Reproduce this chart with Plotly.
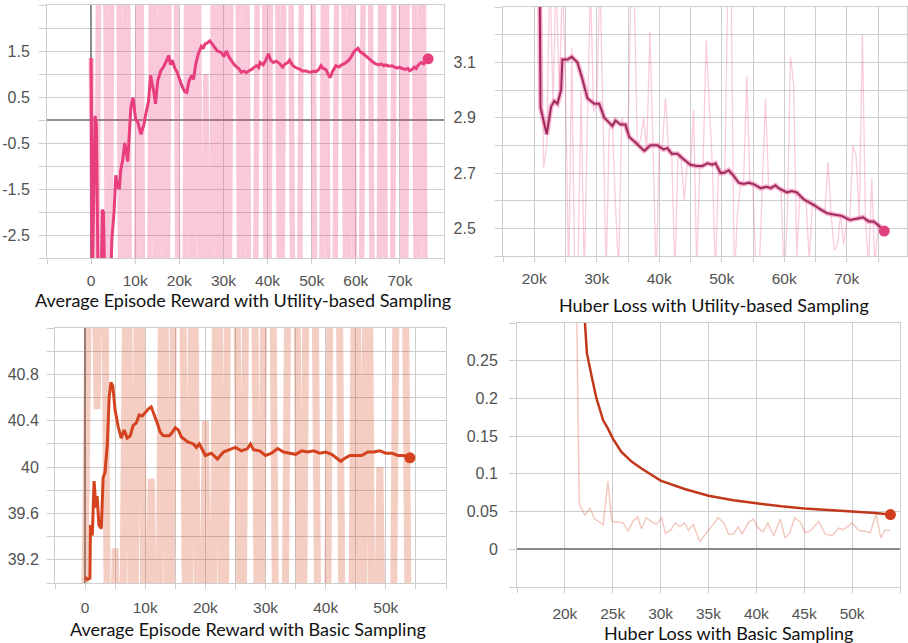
import plotly.graph_objects as go

# ---------------- Panel 1: Average Episode Reward, Utility-based Sampling
p1_raw_steps = list(range(0, 77000, 1000))
p1_raw_values = [1.35, -9.4, 8.6, 9.1, -8.8, 8.2, 9.4, -9.6, 7.9, -9.2,
                 -8.9, 8.8, -9.5, -9.0, 9.2, -9.6, 8.4, -8.7, 9.0, 8.1,
                 -9.3, -8.7, 8.7, -9.1, 9.3, -8.9, 1.0, -9.3, 8.5, -8.9,
                 9.1, -9.3, 8.0, 8.9, -9.7, 8.6, -8.6, -9.2, 9.4, 8.3,
                 -9.0, 8.8, 7.7, -8.8, 9.0, 8.4, -9.5, -8.6, 8.9, 7.6,
                 8.2, -9.4, -9.0, 8.7, -8.8, -9.1, 9.2, 8.1, -9.2, 8.6,
                 -8.5, -9.4, 9.0, 8.3, -8.9, -9.4, 8.8, -9.0, -9.6, 8.5,
                 9.3, -8.7, 8.9, 7.9, -9.1, 8.4, -8.5]
p1_smooth_steps = [0, 250, 900, 1200, 1600, 2300, 2500, 2800, 3100, 4400,
                   4700, 5200, 5600, 6000, 6400, 6700, 7200, 7600, 7900, 8300,
                   9000, 9500, 10100, 10600, 11300, 12000, 12400, 13000, 13500, 14300,
                   14600, 15100, 15800, 16400, 16900, 17600, 18000, 18400, 19000, 19500,
                   20000, 20600, 21200, 21700, 22200, 22800, 23200, 23700, 24300, 25000,
                   25400, 25800, 26400, 26900, 27400, 28000, 28600, 29500, 30100, 30700,
                   31200, 31800, 32500, 33000, 33500, 34000, 34600, 35200, 35800, 36400,
                   37000, 37500, 38000, 38300, 39000, 39600, 40200, 40700, 41300, 42000,
                   42800, 43400, 44000, 44600, 45000, 45600, 46200, 46800, 47400, 48000,
                   48600, 49200, 49800, 50400, 51000, 51600, 52100, 52600, 53200, 53700,
                   54200, 54700, 55500, 56200, 56800, 57300, 57800, 58400, 59000, 59700,
                   60500, 61000, 61600, 62200, 62800, 63400, 64000, 64500, 65200, 65800,
                   66300, 66800, 67500, 68200, 68800, 69400, 69900, 70500, 71200, 71800,
                   72200, 72800, 73300, 73700, 74200, 74900, 75400, 75900, 76400]
p1_smooth_values = [1.35, -3.6, 0.09, -0.1, -3.6, -3.6, -1.95, -2.0, -3.6, -3.6,
                    -2.6, -2.0, -1.2, -1.45, -1.5, -1.1, -0.85, -0.5, -0.65, -0.9,
                    0.27, 0.49, 0.01, -0.05, -0.31, -0.09, 0.13, 0.4, 0.97, 0.56,
                    0.35, 0.85, 1.07, 1.15, 1.25, 1.4, 1.2, 1.3, 1.12, 1.04,
                    0.9, 0.74, 0.62, 0.6, 0.85, 0.97, 0.88, 1.2, 1.44, 1.6,
                    1.55, 1.65, 1.68, 1.72, 1.66, 1.58, 1.5, 1.47, 1.38, 1.5,
                    1.38, 1.29, 1.2, 1.15, 1.12, 1.04, 1.06, 1.03, 1.07, 1.1,
                    1.15, 1.18, 1.14, 1.25, 1.2, 1.3, 1.44, 1.3, 1.25, 1.28,
                    1.22, 1.15, 1.22, 1.25, 1.3, 1.2, 1.15, 1.12, 1.1, 1.06,
                    1.07, 1.05, 1.04, 1.06, 1.05, 1.1, 1.18, 1.12, 1.1, 1.0,
                    0.92, 1.05, 1.18, 1.15, 1.2, 1.22, 1.25, 1.3, 1.38, 1.5,
                    1.56, 1.48, 1.45, 1.4, 1.35, 1.3, 1.25, 1.22, 1.2, 1.22,
                    1.18, 1.2, 1.17, 1.18, 1.15, 1.13, 1.15, 1.12, 1.1, 1.12,
                    1.07, 1.1, 1.15, 1.12, 1.2, 1.25, 1.22, 1.3, 1.33]
p1_x_ticks = [-10000, 0, 10000, 20000, 30000, 40000, 50000, 60000, 70000, 80000]
p1_x_labels = ["", "0", "10k", "20k", "30k", "40k", "50k", "60k", "70k", ""]
p1_y_ticks = [-3, -2.5, -2, -1.5, -1, -0.5, 0, 0.5, 1, 1.5, 2, 2.5]
p1_y_labels = ["", "-2.5", "", "-1.5", "", "-0.5", "", "0.5", "", "1.5", "", ""]

# ---------------- Panel 2: Huber Loss, Utility-based Sampling
p2_raw_steps = list(range(21000, 76500, 500))
p2_raw_values = [3.50, 2.72, 2.80, 3.45, 2.95, 3.42, 2.98, 3.40, 3.05, 2.30,
                 3.15, 2.28, 2.35, 3.00, 2.32, 2.88, 3.38, 2.92, 2.95, 3.42,
                 2.90, 2.33, 2.86, 2.88, 2.58, 2.35, 2.90, 2.86, 2.84, 3.40,
                 3.35, 2.80, 2.82, 2.90, 2.78, 3.21, 2.80, 2.32, 2.79, 2.80,
                 2.97, 2.78, 2.77, 2.33, 2.76, 2.75, 2.60, 2.74, 2.72, 2.93,
                 2.35, 2.73, 2.72, 3.18, 2.95, 2.73, 2.33, 2.72, 2.70, 2.71,
                 3.42, 3.38, 2.30, 2.55, 2.66, 2.67, 3.05, 2.66, 2.65, 2.32,
                 2.35, 2.65, 2.97, 2.65, 2.64, 2.66, 2.65, 2.63, 2.30, 2.55,
                 3.12, 3.02, 2.40, 2.62, 2.61, 2.60, 2.38, 2.59, 2.58, 2.57,
                 2.56, 2.56, 2.74, 2.55, 2.42, 2.44, 2.55, 2.44, 2.53, 2.54,
                 2.80, 2.76, 2.53, 3.20, 2.53, 2.36, 2.68, 2.36, 2.52, 2.50,
                 2.47]
p2_smooth_steps = [20800, 21000, 22000, 22700, 23200, 23700, 24300, 24500, 25300, 26000,
                   26900, 27700, 28500, 29600, 30400, 31200, 32500, 33000, 33800, 34600,
                   35200, 36200, 37600, 38600, 39700, 40700, 41300, 42000, 42900, 43900,
                   45000, 46000, 46900, 47700, 48500, 49000, 49800, 50300, 51100, 51900,
                   52700, 53500, 54300, 55100, 56200, 57200, 57800, 58600, 59100, 60400,
                   61200, 62000, 63100, 64700, 65700, 66800, 67900, 69200, 70500, 71600,
                   72600, 73500, 74300, 75100, 76000]
p2_smooth_values = [3.6, 2.936, 2.84, 2.94, 2.96, 2.95, 3.0, 3.11, 3.11, 3.12,
                    3.10, 3.04, 2.97, 2.95, 2.95, 2.90, 2.87, 2.89, 2.875, 2.875,
                    2.83, 2.81, 2.78, 2.80, 2.80, 2.785, 2.79, 2.77, 2.77, 2.75,
                    2.73, 2.725, 2.725, 2.735, 2.73, 2.735, 2.70, 2.70, 2.71, 2.69,
                    2.665, 2.66, 2.665, 2.66, 2.645, 2.65, 2.645, 2.655, 2.645, 2.63,
                    2.635, 2.63, 2.605, 2.585, 2.57, 2.555, 2.55, 2.545, 2.53, 2.535,
                    2.54, 2.525, 2.525, 2.51, 2.49]
p2_x_ticks = [15000, 20000, 25000, 30000, 35000, 40000, 45000, 50000, 55000, 60000, 65000, 70000, 75000]
p2_x_labels = ["", "20k", "", "30k", "", "40k", "", "50k", "", "60k", "", "70k", ""]
p2_y_ticks = [2.4, 2.5, 2.6, 2.7, 2.8, 2.9, 3.0, 3.1, 3.2, 3.3]
p2_y_labels = ["", "2.5", "", "2.7", "", "2.9", "", "3.1", "", ""]

# ---------------- Panel 3: Average Episode Reward, Basic Sampling
p3_raw_steps = list(range(0, 55000, 1000))
p3_raw_values = [39.0, 43.8, 40.5, 44.1, 36.2, 39.3, 36.8, 43.2, 36.4, 44.0,
                 36.9, 39.9, 36.5, 43.6, 36.1, 43.9, 43.1, 36.7, 43.4, 36.3,
                 40.4, 36.6, 43.7, 36.0, 44.2, 43.0, 36.8, 43.5, 42.9, 36.2,
                 43.8, 43.1, 36.4, 36.9, 43.6, 43.0, 36.3, 43.7, 43.2, 36.5,
                 36.1, 43.9, 43.3, 36.7, 36.2, 43.4, 36.6, 43.8, 36.0, 40.0,
                 36.4, 36.9, 43.5, 43.1, 36.8]
p3_smooth_steps = [0, 400, 800, 900, 1200, 1500, 1800, 2000, 2300, 2700,
                   3000, 3300, 3700, 4000, 4300, 4600, 5000, 5500, 6000, 6500,
                   7000, 7500, 8000, 8500, 9000, 9500, 10000, 10500, 11000, 11500,
                   12000, 12500, 13000, 14000, 14500, 15000, 15500, 16000, 16500, 17000,
                   18000, 18500, 19000, 19500, 20000, 21000, 22000, 23000, 24000, 25000,
                   26000, 27000, 27500, 28000, 29000, 30000, 31000, 32000, 33000, 34000,
                   35000, 36000, 37000, 38000, 39000, 40000, 41000, 42000, 42500, 43000,
                   44000, 45000, 46000, 47000, 48000, 49000, 50000, 51000, 52000, 53000,
                   54000]
p3_smooth_values = [39.05, 39.03, 39.04, 39.5, 39.41, 39.88, 39.65, 39.75, 39.5, 39.47,
                    39.91, 39.95, 40.19, 40.6, 40.73, 40.7, 40.49, 40.35, 40.25, 40.32,
                    40.25, 40.27, 40.36, 40.38, 40.45, 40.44, 40.47, 40.5, 40.52, 40.45,
                    40.38, 40.3, 40.27, 40.27, 40.3, 40.34, 40.32, 40.26, 40.24, 40.22,
                    40.2, 40.17, 40.2, 40.15, 40.1, 40.12, 40.07, 40.13, 40.15, 40.17,
                    40.14, 40.16, 40.2, 40.15, 40.14, 40.1, 40.12, 40.16, 40.13, 40.12,
                    40.11, 40.14, 40.13, 40.14, 40.12, 40.13, 40.11, 40.07, 40.05, 40.07,
                    40.1, 40.1, 40.1, 40.13, 40.13, 40.14, 40.12, 40.12, 40.1, 40.1,
                    40.08]
p3_x_ticks = [-5000, 0, 5000, 10000, 15000, 20000, 25000, 30000, 35000, 40000, 45000, 50000, 55000, 60000]
p3_x_labels = ["", "0", "", "10k", "", "20k", "", "30k", "", "40k", "", "50k", "", ""]
p3_y_ticks = [39.0, 39.2, 39.4, 39.6, 39.8, 40.0, 40.2, 40.4, 40.6, 40.8, 41.0, 41.2]
p3_y_labels = ["", "39.2", "", "39.6", "", "40", "", "40.4", "", "40.8", "", ""]

# ---------------- Panel 4: Huber Loss, Basic Sampling
p4_raw_steps = [20800, 21200, 21500, 22100, 22600, 23100, 24000, 24500, 24900, 25600,
                26100, 26600, 27100, 27600, 28000, 28500, 29100, 29600, 30100, 30500,
                31100, 31500, 32000, 32500, 32900, 33400, 34100, 34800, 35500, 36000,
                36600, 37100, 37600, 38100, 38500, 39200, 39700, 40200, 40700, 41200,
                41800, 42500, 43000, 43500, 44000, 44600, 45100, 45600, 46500, 47200,
                47900, 48600, 49100, 50000, 50700, 51400, 51900, 52500, 53000, 53400,
                54000]
p4_raw_values = [1.2, 0.35, 0.06, 0.045, 0.055, 0.04, 0.033, 0.09, 0.037, 0.036,
                 0.035, 0.024, 0.037, 0.043, 0.027, 0.042, 0.036, 0.033, 0.042, 0.021,
                 0.026, 0.035, 0.03, 0.035, 0.025, 0.033, 0.01, 0.022, 0.033, 0.042,
                 0.035, 0.02, 0.02, 0.03, 0.02, 0.036, 0.04, 0.028, 0.023, 0.035,
                 0.018, 0.04, 0.015, 0.022, 0.042, 0.036, 0.022, 0.024, 0.037, 0.02,
                 0.018, 0.028, 0.026, 0.035, 0.025, 0.024, 0.022, 0.047, 0.015, 0.025,
                 0.025]
p4_smooth_steps = [20800, 21200, 21600, 22000, 22300, 22800, 23300, 24000, 24500, 25000,
                   25900, 27000, 28000, 30000, 32500, 35000, 37600, 40000, 42600, 45000,
                   47500, 50000, 52400, 54000]
p4_smooth_values = [1.2, 0.7, 0.45, 0.32, 0.26, 0.229, 0.2, 0.171, 0.16, 0.147,
                    0.129, 0.116, 0.107, 0.091, 0.08, 0.071, 0.065, 0.061, 0.057, 0.054,
                    0.052, 0.05, 0.048, 0.046]
p4_x_ticks = [15000, 20000, 25000, 30000, 35000, 40000, 45000, 50000, 55000]
p4_x_labels = ["", "20k", "25k", "30k", "35k", "40k", "45k", "50k", ""]
p4_y_ticks = [-0.05, 0, 0.05, 0.1, 0.15, 0.2, 0.25, 0.3]
p4_y_labels = ["", "0", "0.05", "0.1", "0.15", "0.2", "0.25", ""]

titles = ["Average Episode Reward with Utility-based Sampling",
          "Huber Loss with Utility-based Sampling",
          "Average Episode Reward with Basic Sampling",
          "Huber Loss with Basic Sampling"]

W, H = 908, 643
GRID = "#cdcdcd"
ZERO = "#8c8c8c"
TICKFONT = dict(family="Liberation Sans", size=16, color="#525252")
XTICKFONT = dict(family="Liberation Sans", size=15.5, color="#525252")

fig = go.Figure()


def add_line(x, y, ax, color, width):
    fig.add_trace(go.Scatter(x=x, y=y, mode="lines", xaxis="x" + ax, yaxis="y" + ax,
                             line=dict(color=color, width=width, simplify=False),
                             hoverinfo="skip", showlegend=False))


def add_end(x, y, ax, color, size):
    fig.add_trace(go.Scatter(x=[x[-1]], y=[y[-1]], mode="markers", xaxis="x" + ax,
                             yaxis="y" + ax, marker=dict(color=color, size=size),
                             hoverinfo="skip", showlegend=False, cliponaxis=False))


# Panel 1
add_line(p1_raw_steps, p1_raw_values, "", "rgba(235,75,135,0.30)", 5.5)
add_line(p1_smooth_steps, p1_smooth_values, "", "#e83e7c", 3)
add_end(p1_smooth_steps, p1_smooth_values, "", "#e8407e", 11)
# Panel 2
add_line(p2_raw_steps, p2_raw_values, "2", "rgba(235,90,150,0.30)", 1.3)
add_line(p2_smooth_steps, p2_smooth_values, "2", "rgba(235,90,150,0.45)", 5)
add_line(p2_smooth_steps, p2_smooth_values, "2", "#9e2a5c", 2)
add_end(p2_smooth_steps, p2_smooth_values, "2", "#e0417d", 11)
# Panel 3
add_line(p3_raw_steps, p3_raw_values, "3", "rgba(215,70,35,0.27)", 7)
add_line(p3_smooth_steps, p3_smooth_values, "3", "#d4421e", 3)
add_end(p3_smooth_steps, p3_smooth_values, "3", "#d4421e", 11)
# Panel 4
add_line(p4_raw_steps, p4_raw_values, "4", "rgba(215,80,50,0.30)", 1.5)
add_line(p4_smooth_steps, p4_smooth_values, "4", "#c2381b", 2.5)
add_end(p4_smooth_steps, p4_smooth_values, "4", "#d13d1f", 11)


def xax(dom, rng, tv, tt, standoff, zero=False):
    return dict(domain=[dom[0] / W, dom[1] / W], range=rng, tickmode="array", tickvals=tv,
                ticktext=tt, showgrid=True, gridcolor=GRID, gridwidth=1,
                zeroline=zero, zerolinecolor=ZERO, zerolinewidth=1.5,
                showline=True, linecolor=GRID, mirror=True, automargin=False,
                ticks="outside", ticklen=5, tickcolor=GRID, tickfont=XTICKFONT,
                ticklabelstandoff=standoff, fixedrange=True)


def yax(dom, rng, tv, tt, standoff, zero=False):
    return dict(domain=[1 - dom[1] / H, 1 - dom[0] / H], range=rng, tickmode="array",
                tickvals=tv, ticktext=tt, showgrid=True, gridcolor=GRID, gridwidth=1,
                zeroline=zero, zerolinecolor=ZERO, zerolinewidth=1.5,
                showline=True, linecolor=GRID, mirror=True, automargin=False,
                ticks="outside", ticklen=7, tickcolor=GRID, tickfont=TICKFONT,
                ticklabelstandoff=standoff, fixedrange=True)


fig.update_layout(
    width=W, height=H, margin=dict(l=0, r=0, t=0, b=0, autoexpand=False),
    paper_bgcolor="white", plot_bgcolor="white", showlegend=False,
    xaxis=dict(xax((47, 444), [-10000, 80000], p1_x_ticks, p1_x_labels, 3, True), anchor="y"),
    yaxis=dict(yax((5, 258), [-3, 2.5], p1_y_ticks, p1_y_labels, 6, True), anchor="x"),
    xaxis2=dict(xax((503, 907), [15000, 79640], p2_x_ticks, p2_x_labels, 3), anchor="y2"),
    yaxis2=dict(yax((7, 256), [2.4, 3.3], p2_y_ticks, p2_y_labels, 16), anchor="x2"),
    xaxis3=dict(xax((55, 446), [-5000, 60000], p3_x_ticks, p3_x_labels, 5, True), anchor="y3"),
    yaxis3=dict(yax((328, 583), [39.0, 41.2], p3_y_ticks, p3_y_labels, 5), anchor="x3"),
    xaxis4=dict(xax((517, 900), [15000, 55000], p4_x_ticks, p4_x_labels, 7), anchor="y4"),
    yaxis4=dict(yax((323, 587), [-0.05, 0.3], p4_y_ticks, p4_y_labels, 8, True), anchor="x4"),
)

title_pos = [(243, 300), (714, 305), (248, 629), (728, 633)]
for txt, (cx, cy) in zip(titles, title_pos):
    fig.add_annotation(text=txt, xref="paper", yref="paper", x=cx / W, y=1 - cy / H,
                       xanchor="center", yanchor="middle", showarrow=False,
                       font=dict(family="Lato", size=18, color="#111111"))

fig.write_html("out.html", config={"displayModeBar": False},
               post_script="document.body.style.margin='0px';document.body.style.overflow='hidden';")
